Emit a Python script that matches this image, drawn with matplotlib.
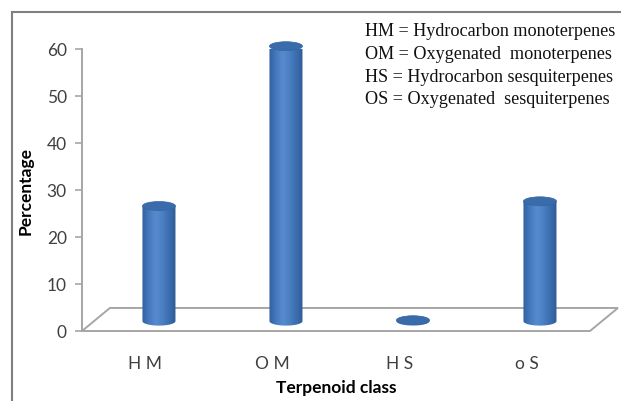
import numpy as np
import matplotlib.pyplot as plt
from matplotlib.patches import Ellipse, Polygon, PathPatch
from matplotlib.path import Path
from matplotlib.colors import LinearSegmentedColormap
from matplotlib.lines import Line2D

# data
classes = ['H M', 'O M', 'H S', 'o S']
percent = [24.5, 58.5, 0.2, 25.5]
yticks = [0, 10, 20, 30, 40, 50, 60]
legend_lines = ['HM = Hydrocarbon monoterpenes',
                'OM = Oxygenated  monoterpenes',
                'HS = Hydrocarbon sesquiterpenes',
                'OS = Oxygenated  sesquiterpenes']

fig = plt.figure(figsize=(6.21, 4.02), dpi=100)
ax = fig.add_axes([82 / 621, 70 / 402, 508 / 621, 282 / 402])

# fake 3d geometry (depth shift of floor and bars)
floor_dx, floor_dy = 0.22, 4.9
bar_dx, bar_dy = 0.106, 2.1
bar_w = 0.26
ell_h = 1.9

cmap = LinearSegmentedColormap.from_list(
    'cyl', ['#30609f', '#4479bd', '#568bcf', '#4b80c3', '#3c6eae', '#2f5c98'])
grad = np.linspace(0, 1, 128).reshape(1, -1)

# floor
floor = Polygon([(-0.5, 0), (3.5, 0), (3.5 + floor_dx, floor_dy),
                 (-0.5 + floor_dx, floor_dy)], closed=True, fill=False,
                edgecolor='#a6a6a6', lw=1.4, clip_on=False, zorder=1)
ax.add_patch(floor)

for i, v in enumerate(percent):
    xc = i + bar_dx
    y0 = bar_dy
    y1 = bar_dy + v
    # body outline: rectangle + lower half ellipse
    t = np.linspace(0, -np.pi, 60)
    bx = xc + bar_w / 2 * np.cos(t)
    by = y0 + ell_h / 2 * np.sin(t)
    verts = [(xc - bar_w / 2, y1), (xc + bar_w / 2, y1)] + list(zip(bx, by)) + [(xc - bar_w / 2, y1)]
    patch = PathPatch(Path(verts), facecolor='none', edgecolor='none', transform=ax.transData)
    ax.add_patch(patch)
    im = ax.imshow(grad, cmap=cmap, aspect='auto', interpolation='bicubic',
                   extent=[xc - bar_w / 2, xc + bar_w / 2, y0 - ell_h / 2, y1],
                   zorder=2)
    im.set_clip_path(patch)
    top = Ellipse((xc, y1), bar_w, ell_h, facecolor='#3a6bab',
                  edgecolor='#3466a5', lw=0.5, zorder=3, clip_on=False)
    ax.add_patch(top)

ax.set_xlim(-0.5, 3.5)
ax.set_ylim(0, 60)

for s in ['top', 'right', 'bottom']:
    ax.spines[s].set_visible(False)
ax.spines['left'].set_color('#a6a6a6')
ax.spines['left'].set_linewidth(1.4)

ax.set_yticks(yticks)
ax.set_xticks(range(len(classes)))
ax.set_xticklabels(classes)
ax.tick_params(axis='y', length=5, color='#a6a6a6', width=1.2,
               labelsize=12.5, labelcolor='#404040', pad=6)
ax.tick_params(axis='x', length=0, labelsize=12.5, labelcolor='#404040', pad=17)
for lab in ax.get_xticklabels() + ax.get_yticklabels():
    lab.set_family('Lato')

ax.set_ylabel('Percentage', fontsize=12.5, fontweight='bold', family='Lato',
              labelpad=9)
ax.set_xlabel('Terpenoid class', fontsize=12.5, fontweight='bold', family='Lato',
              labelpad=6)

# legend-like text block
for k, line in enumerate(legend_lines):
    fig.text(365 / 621, 1 - (32 + 22.5 * k) / 402, line, family='Liberation Serif',
             fontsize=13.1, color='#111111', va='center', ha='left')

# outer frame (top and left visible)
fig.add_artist(Line2D([12 / 621, 1], [1 - 13 / 402, 1 - 13 / 402],
                      color='#808080', lw=1.5))
fig.add_artist(Line2D([12 / 621, 12 / 621], [0, 1 - 13 / 402],
                      color='#808080', lw=1.5))

fig.savefig('out.png', dpi=100)
